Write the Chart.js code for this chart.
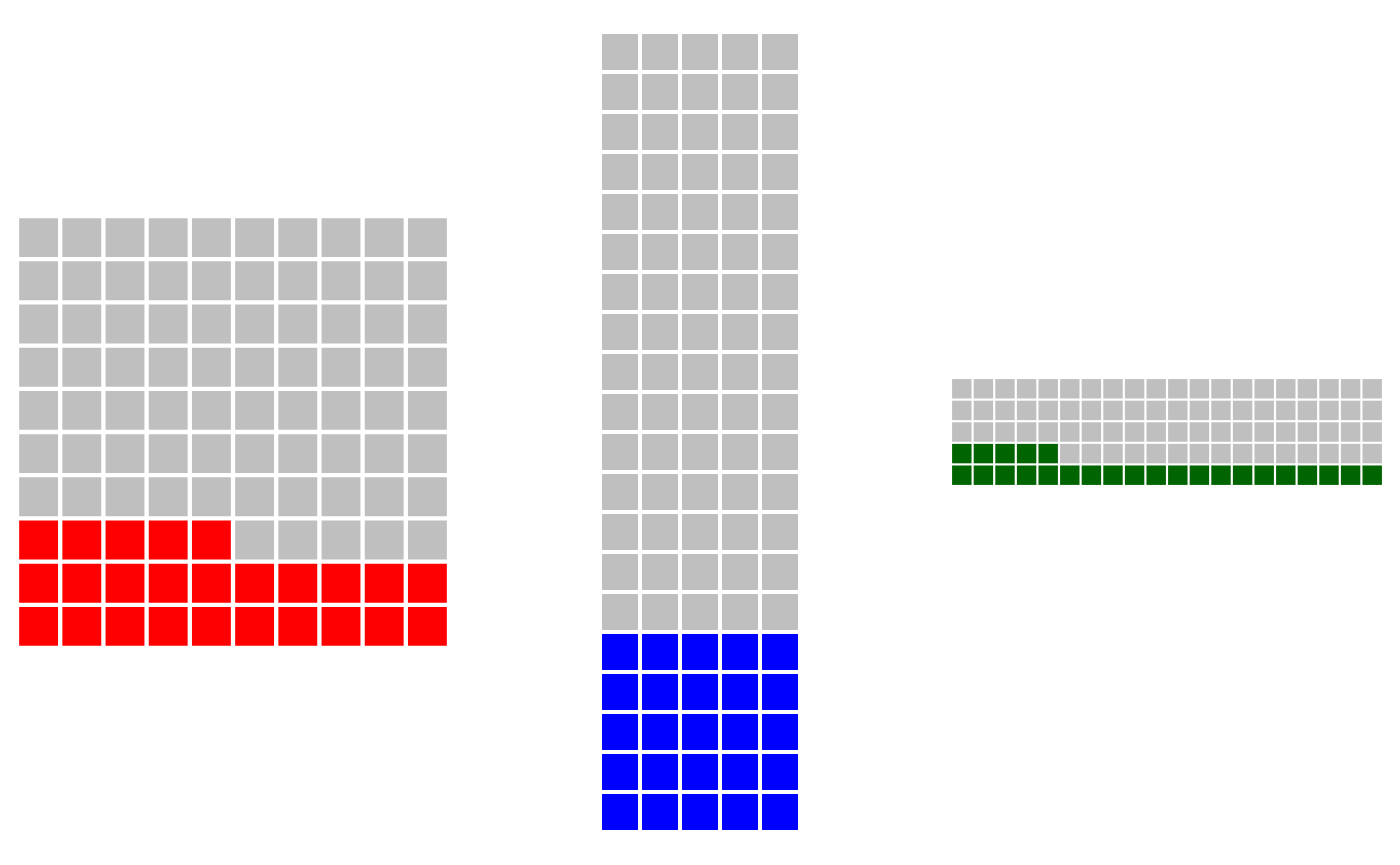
<!DOCTYPE html>
<html>
<head>
<meta charset="utf-8">
<script src="https://cdn.jsdelivr.net/npm/chart.js@4/dist/chart.umd.min.js"></script>
<style>
  html, body { margin: 0; padding: 0; background: #ffffff; overflow: hidden; }
  #wrap { position: relative; width: 1400px; height: 865px; }
  .box { position: absolute; }
</style>
</head>
<body>
<div id="wrap"></div>
<script>
// ---- data ----
const chartNames = ['Red', 'Blue', 'Green'];
const values = [25, 25, 25];
const totals = [100, 100, 100];
const rowCounts = [10, 20, 5];
const colCounts = [10, 5, 20];
const fillColors = ['#ff0000', '#0000ff', '#006400'];
const emptyColor = '#bfbfbf';

// ---- layout (styles only) ----
const figW = 1400, figH = 865;
const areaW = 432, areaH = 800, centerY = 432.3;
const cellRatio = 0.9;

const wrap = document.getElementById('wrap');

chartNames.forEach((name, i) => {
  const rows = rowCounts[i], cols = colCounts[i];
  const pitch = Math.min(areaW / cols, areaH / rows);
  const w = cols * pitch, h = rows * pitch;
  const cx = (i + 0.5) * figW / 3;
  const div = document.createElement('div');
  div.className = 'box';
  div.style.left = (cx - w / 2) + 'px';
  div.style.top = (centerY - h / 2) + 'px';
  div.style.width = w + 'px';
  div.style.height = h + 'px';
  const cv = document.createElement('canvas');
  div.appendChild(cv);
  wrap.appendChild(div);

  const filled = [], empty = [];
  for (let k = 0; k < totals[i]; k++) {
    const pt = { x: (k % cols) + 0.5, y: Math.floor(k / cols) + 0.5 };
    (k < values[i] ? filled : empty).push(pt);
  }

  const radiusFn = (ctx) => {
    const sx = ctx.chart.scales.x;
    const unit = sx ? Math.abs(sx.getPixelForValue(1) - sx.getPixelForValue(0)) : pitch;
    return unit * cellRatio / 2 / Math.SQRT1_2;
  };

  new Chart(cv, {
    type: 'scatter',
    data: {
      datasets: [
        { label: name, data: filled, backgroundColor: fillColors[i], pointStyle: 'rect',
          pointRadius: radiusFn, pointHoverRadius: radiusFn, borderWidth: 0, pointBorderWidth: 0 },
        { label: 'Rest', data: empty, backgroundColor: emptyColor, pointStyle: 'rect',
          pointRadius: radiusFn, pointHoverRadius: radiusFn, borderWidth: 0, pointBorderWidth: 0 }
      ]
    },
    options: {
      responsive: true,
      maintainAspectRatio: false,
      animation: false,
      events: [],
      layout: { padding: 0 },
      plugins: { legend: { display: false }, tooltip: { enabled: false } },
      scales: {
        x: { type: 'linear', min: 0, max: cols, display: false },
        y: { type: 'linear', min: 0, max: rows, display: false }
      }
    }
  });
});
</script>
</body>
</html>
